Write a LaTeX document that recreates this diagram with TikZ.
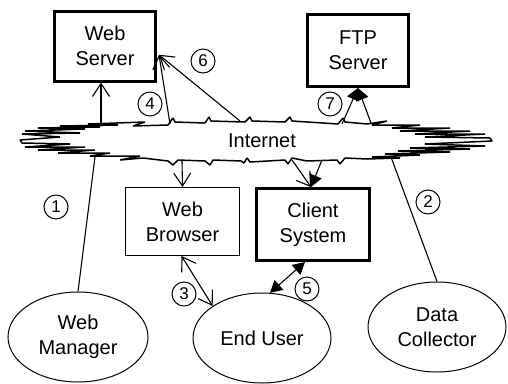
\documentclass[tikz,border=0pt]{standalone}
\usepackage{fontspec}
\setmainfont{Liberation Sans}
\usetikzlibrary{arrows.meta}
\usetikzlibrary{shapes.geometric}
\usetikzlibrary{calc}
\tikzset{>=latex}
\tikzset{
  txt/.style={align=center, font=\fontsize{20}{25}\selectfont},
  heavybox/.style={txt, draw, line width=3pt, minimum width=101pt, minimum height=70pt},
  lightbox/.style={txt, draw, line width=1pt, minimum width=114pt, minimum height=68pt},
  actor/.style={txt, draw, ellipse, line width=1pt, inner sep=0pt, minimum width=138pt, minimum height=90pt},
  num/.style={draw, circle, line width=1pt, inner sep=0pt, minimum size=24pt, font=\fontsize{17}{17}\selectfont},
  link/.style={line width=1.1pt},
  opentip/.style={link, -{Straight Barb[length=13pt,width=17pt,line width=1.1pt]}},
  fulltip/.style={link, -{Triangle[length=12pt,width=13pt]}},
  openboth/.style={link, {Straight Barb[length=13pt,width=17pt,line width=1.1pt]}-{Straight Barb[length=13pt,width=17pt,line width=1.1pt]}},
  fullboth/.style={link, {Triangle[length=12pt,width=13pt]}-{Triangle[length=12pt,width=13pt]}}
}

\begin{document}
\begin{tikzpicture}[x=1pt,y=-1pt]
  \useasboundingbox (0,0) rectangle (508,383);

  % the net
  \draw[line width=1.5pt, fill=white, line join=bevel]
    (20,140) -- (60,137) -- (22,134) -- (80,133) -- (25,131) -- (85,129) -- (38,128)
    -- (100,127) -- (60,126) -- (118,125) -- (88,124) -- (145,122) -- (133,126) -- (168,125)
    -- (173,118) -- (175,122)
    -- (205,123) -- (209,117) -- (211,121) -- (245,122) -- (250,117) -- (252,121)
    -- (285,122) -- (290,117) -- (292,121) -- (338,124) -- (343,118) -- (345,122)
    -- (367,124) -- (387,121) -- (372,125) -- (420,125) -- (392,128) -- (450,128)
    -- (400,131) -- (470,131) -- (415,134) -- (485,134) -- (425,137) -- (490,138)
    -- (492,141)
    -- (425,144) -- (485,146) -- (410,148) -- (470,149) -- (398,151) -- (450,152)
    -- (385,154) -- (420,155) -- (372,157) -- (400,158) -- (367,159)
    -- (345,158) -- (340,164) -- (337,160)
    -- (307,161) -- (292,158) -- (288,164) -- (285,160) -- (250,162) -- (247,158)
    -- (244,163) -- (241,161) -- (213,160) -- (210,165) -- (205,161) -- (178,160)
    -- (173,165) -- (168,161) -- (143,158) -- (120,160) -- (140,156) -- (90,156)
    -- (110,153) -- (58,153) -- (95,150) -- (38,150) -- (85,147) -- (25,147)
    -- (70,144) -- (22,143) -- cycle;
  \node[txt] (net) at (262,141) {Internet};

  % boxes
  \node[heavybox] (websrv) at (105,46) {Web\\Server};
  \node[heavybox, minimum height=72pt] (ftpsrv) at (358,50.5) {FTP\\Server};
  \node[lightbox] (browser) at (182.5,221.5) {Web\\Browser};
  \node[heavybox, minimum width=113pt, minimum height=72pt] (client) at (313,224.5) {Client\\System};

  % people
  \node[actor, minimum width=140pt] (manager) at (78,337) {Web\\Manager};
  \node[actor] (enduser) at (262,338) {End User};
  \node[actor] (collector) at (437,327) {Data\\Collector};

  % points on the net
  \coordinate (upA) at (101,124);
  \coordinate (dnA) at (95,157);
  \coordinate (upB) at (170,124);
  \coordinate (upC) at (240,121);
  \coordinate (dnC) at (182,161);
  \coordinate (dnD) at (292,160);
  \coordinate (dnE) at (322,160);
  \coordinate (upF) at (342,124);
  \coordinate (upG) at (371,123);
  \coordinate (dnH) at (391,157);
  \coordinate (wsin) at ($(websrv.north east)!0.62!(websrv.south east)+(2,0)$);
  \coordinate (csin) at ($(client.north)+(-2,0)$);

  % flows
  \draw[link] (manager.north) -- (dnA);
  \draw[opentip] (upA) -- (upA |- websrv.south);
  \draw[opentip] (upB) -- (wsin);
  \draw[opentip] (upC) -- (wsin);
  \draw[opentip] (dnC) -- (browser.north);
  \draw[opentip] (dnD) -- (csin);
  \draw[fulltip] (dnE) -- (csin);
  \draw[fulltip] (upF) -- (ftpsrv.south);
  \draw[fulltip] (upG) -- (ftpsrv.south);
  \draw[link] (collector.north) -- (dnH);
  \draw[openboth] ($(browser.south)+(-1,0)$) -- (enduser.147);
  \draw[fullboth] ($(client.south)+(-8,0)$) -- (enduser.80);

  % step numbers
  \node[num] (n1) at (56,207) {1};
  \node[num] (n2) at (428,202) {2};
  \node[num] (n3) at (184,294) {3};
  \node[num] (n4) at (150,104) {4};
  \node[num] (n5) at (307,289) {5};
  \node[num] (n6) at (203,61) {6};
  \node[num] (n7) at (330,104) {7};
\end{tikzpicture}
\end{document}
